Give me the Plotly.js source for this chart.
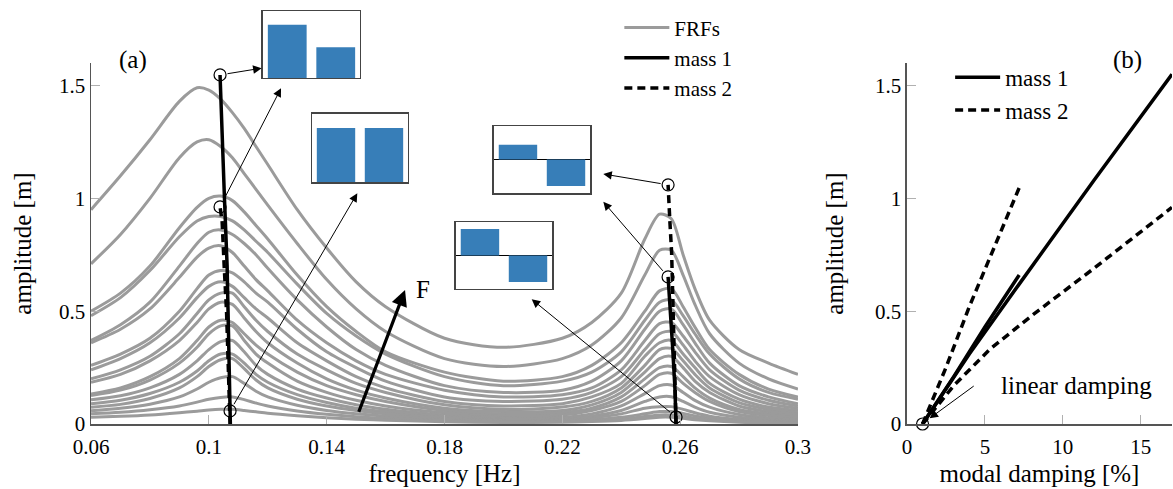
<!DOCTYPE html>
<html><head><meta charset="utf-8">
<script src="https://cdn.plot.ly/plotly-3.0.1.min.js"></script>
<style>html,body{margin:0;padding:0;background:#fff}#chart{width:1173px;height:489px}</style>
</head><body><div id="chart"></div>
<script>
// ---------- data ----------
const freq = [0.06,0.07,0.08,0.09,0.096,0.1,0.104,0.108,0.112,0.116,0.12,0.13,0.14,0.15,0.16,0.18,0.2,0.22,0.23,0.24,0.248,0.253,0.257,0.261,0.265,0.27,0.28,0.29,0.3];
const frf01 = [0.95,1.10,1.26,1.43,1.49,1.48,1.44,1.38,1.31,1.23,1.15,0.95,0.78,0.63,0.52,0.38,0.34,0.38,0.45,0.58,0.82,0.93,0.91,0.75,0.60,0.46,0.33,0.27,0.22];
const frf02 = [0.71,0.84,1.00,1.18,1.25,1.26,1.23,1.18,1.11,1.04,0.97,0.80,0.64,0.51,0.41,0.29,0.255,0.29,0.35,0.47,0.66,0.77,0.77,0.66,0.53,0.40,0.27,0.20,0.155];
const frf03 = [0.50,0.58,0.70,0.87,0.96,1.00,1.01,0.99,0.94,0.88,0.82,0.66,0.52,0.41,0.32,0.23,0.19,0.21,0.26,0.36,0.50,0.59,0.60,0.52,0.43,0.33,0.22,0.155,0.12];
const frf04 = [0.48,0.56,0.68,0.83,0.90,0.92,0.92,0.90,0.86,0.81,0.76,0.62,0.49,0.39,0.31,0.21,0.17,0.19,0.23,0.32,0.46,0.54,0.55,0.48,0.40,0.31,0.20,0.14,0.11];
const frf05 = [0.37,0.44,0.54,0.70,0.80,0.85,0.86,0.84,0.80,0.75,0.69,0.55,0.43,0.33,0.26,0.17,0.14,0.15,0.19,0.28,0.42,0.50,0.51,0.44,0.36,0.27,0.17,0.12,0.09];
const frf06 = [0.36,0.42,0.51,0.65,0.74,0.78,0.79,0.76,0.70,0.64,0.59,0.46,0.36,0.28,0.22,0.15,0.12,0.13,0.16,0.24,0.37,0.445,0.45,0.39,0.32,0.24,0.15,0.105,0.08];
const frf07 = [0.26,0.31,0.38,0.50,0.60,0.66,0.68,0.67,0.63,0.58,0.54,0.42,0.32,0.25,0.19,0.12,0.10,0.11,0.14,0.21,0.33,0.40,0.41,0.35,0.28,0.21,0.13,0.09,0.07];
const frf08 = [0.24,0.29,0.36,0.47,0.56,0.61,0.63,0.61,0.56,0.51,0.47,0.36,0.28,0.21,0.16,0.10,0.08,0.09,0.12,0.18,0.30,0.36,0.37,0.31,0.25,0.18,0.11,0.075,0.06];
const frf09 = [0.20,0.24,0.30,0.40,0.49,0.55,0.58,0.58,0.52,0.46,0.41,0.31,0.24,0.18,0.14,0.085,0.065,0.075,0.10,0.16,0.26,0.33,0.335,0.28,0.22,0.16,0.095,0.065,0.05];
const frf10 = [0.185,0.22,0.28,0.37,0.45,0.51,0.54,0.53,0.47,0.41,0.36,0.27,0.20,0.15,0.115,0.07,0.055,0.06,0.085,0.14,0.23,0.29,0.30,0.25,0.19,0.14,0.08,0.055,0.042];
const frf11 = [0.133,0.16,0.21,0.29,0.37,0.43,0.46,0.45,0.40,0.35,0.31,0.23,0.17,0.13,0.10,0.06,0.045,0.05,0.07,0.12,0.20,0.25,0.255,0.21,0.16,0.115,0.065,0.045,0.035];
const frf12 = [0.126,0.15,0.195,0.27,0.34,0.40,0.435,0.435,0.37,0.31,0.27,0.19,0.14,0.105,0.08,0.05,0.035,0.04,0.06,0.10,0.17,0.22,0.225,0.18,0.14,0.10,0.055,0.038,0.03];
const frf13 = [0.107,0.125,0.16,0.22,0.28,0.33,0.365,0.37,0.32,0.26,0.22,0.155,0.115,0.085,0.065,0.04,0.028,0.03,0.045,0.08,0.135,0.17,0.173,0.14,0.105,0.075,0.042,0.028,0.022];
const frf14 = [0.09,0.105,0.135,0.185,0.235,0.28,0.31,0.31,0.27,0.22,0.185,0.13,0.095,0.07,0.055,0.033,0.022,0.025,0.035,0.06,0.10,0.12,0.121,0.10,0.075,0.052,0.03,0.02,0.016];
const frf15 = [0.074,0.087,0.113,0.16,0.21,0.255,0.285,0.29,0.245,0.195,0.16,0.11,0.08,0.06,0.046,0.028,0.018,0.02,0.028,0.045,0.07,0.077,0.077,0.065,0.05,0.035,0.02,0.014,0.011];
const frf16 = [0.059,0.07,0.088,0.12,0.155,0.185,0.205,0.21,0.18,0.145,0.12,0.083,0.06,0.045,0.035,0.021,0.014,0.015,0.02,0.03,0.045,0.055,0.055,0.047,0.036,0.026,0.015,0.01,0.008];
const frf17 = [0.045,0.052,0.063,0.08,0.097,0.11,0.118,0.12,0.108,0.093,0.08,0.058,0.043,0.032,0.025,0.015,0.01,0.011,0.015,0.022,0.033,0.04,0.04,0.034,0.026,0.019,0.011,0.008,0.006];
const frf18 = [0.03,0.034,0.04,0.05,0.057,0.062,0.065,0.065,0.06,0.054,0.048,0.037,0.028,0.021,0.017,0.01,0.007,0.008,0.011,0.016,0.024,0.03,0.03,0.025,0.019,0.014,0.008,0.006,0.005];
const frfs = [frf01,frf02,frf03,frf04,frf05,frf06,frf07,frf08,frf09,frf10,frf11,frf12,frf13,frf14,frf15,frf16,frf17,frf18];

// backbones (frequency, amplitude)
const bbMass1Mode1F = [0.1073,0.1069,0.1062,0.1053,0.1046,0.1038];
const bbMass1Mode1A = [0,0.3,0.7,1.0,1.3,1.547];
const bbMass2Mode1F = [0.1072,0.1066,0.1060,0.1052,0.1045,0.1038];
const bbMass2Mode1A = [0,0.3,0.5,0.7,0.9,0.962];
const bbMass1Mode2F = [0.2586,0.2582,0.2574,0.2567,0.2559];
const bbMass1Mode2A = [0,0.165,0.35,0.5,0.652];
const bbMass2Mode2F = [0.2586,0.2582,0.2577,0.2571,0.2565,0.2559];
const bbMass2Mode2A = [0,0.24,0.54,0.76,0.9,1.06];
const markF = [0.1072,0.1038,0.1038,0.2586,0.2559,0.2559];
const markA = [0.058,0.962,1.547,0.031,0.652,1.06];

// modal damping (%) vs amplitude
const dampM1aD = [1,4,7.2,12,17];
const dampM1aA = [0,0.31,0.62,1.08,1.55];
const dampM1bD = [1,3,5,7.2];
const dampM1bA = [0,0.21,0.43,0.66];
const dampM2aD = [1,2.5,4,5.5,7.25];
const dampM2aA = [0,0.25,0.52,0.77,1.055];
const dampM2bD = [1,3,5.3,8,12,17];
const dampM2bA = [0,0.17,0.33,0.48,0.69,0.96];
const linearD = [1];
const linearA = [0];

// mode shapes in insets
const shapeIdx = [0,1];
const shapeA = [1,0.58];
const shapeB = [1,1];
const shapeC = [0.56,-1];
const shapeD = [1,-1];

const freqTicks = [0.06,0.1,0.14,0.18,0.22,0.26,0.3];
const freqTickText = ['0.06','0.1','0.14','0.18','0.22','0.26','0.3'];
const ampTicks = [0,0.5,1,1.5];
const ampTickText = ['0','0.5','1','1.5'];
const dampTicks = [0,5,10,15];

// ---------- traces ----------
const FONT = "'Liberation Serif', 'Times New Roman', serif";
const traces = [];
frfs.forEach((a,i)=>{
  traces.push({x:freq,y:a,type:'scatter',mode:'lines',name:'FRFs',legendgroup:'frf',showlegend:i===0,
    line:{color:'#9b9b9b',width:3,shape:'spline',smoothing:0.8},hoverinfo:'skip',xaxis:'x',yaxis:'y',legend:'legend'});
});
traces.push({x:bbMass1Mode1F.concat([null],bbMass1Mode2F),y:bbMass1Mode1A.concat([null],bbMass1Mode2A),
  type:'scatter',mode:'lines',name:'mass 1',line:{color:'#000',width:3.5},hoverinfo:'skip',xaxis:'x',yaxis:'y',legend:'legend'});
traces.push({x:bbMass2Mode1F.concat([null],bbMass2Mode2F),y:bbMass2Mode1A.concat([null],bbMass2Mode2A),
  type:'scatter',mode:'lines',name:'mass 2',line:{color:'#000',width:3.5,dash:'8px,5px'},hoverinfo:'skip',xaxis:'x',yaxis:'y',legend:'legend'});
traces.push({x:markF,y:markA,type:'scatter',mode:'markers',showlegend:false,cliponaxis:false,
  marker:{symbol:'circle-open',size:12,color:'#000',line:{width:1.2}},hoverinfo:'skip',xaxis:'x',yaxis:'y'});

traces.push({x:dampM1aD.concat([null],dampM1bD),y:dampM1aA.concat([null],dampM1bA),type:'scatter',mode:'lines',name:'mass 1',
  line:{color:'#000',width:3.5},hoverinfo:'skip',xaxis:'x2',yaxis:'y2',legend:'legend2'});
traces.push({x:dampM2aD.concat([null],dampM2bD),y:dampM2aA.concat([null],dampM2bA),type:'scatter',mode:'lines',name:'mass 2',
  line:{color:'#000',width:3.5,dash:'8px,5px'},hoverinfo:'skip',xaxis:'x2',yaxis:'y2',legend:'legend2'});
traces.push({x:linearD,y:linearA,type:'scatter',mode:'markers',showlegend:false,cliponaxis:false,
  marker:{symbol:'circle-open',size:12,color:'#000',line:{width:1.2}},hoverinfo:'skip',xaxis:'x2',yaxis:'y2'});

[[shapeA,'x3','y3'],[shapeB,'x4','y4'],[shapeC,'x5','y5'],[shapeD,'x6','y6']].forEach(s=>{
  traces.push({x:shapeIdx,y:s[0],type:'bar',xaxis:s[1],yaxis:s[2],showlegend:false,hoverinfo:'skip',
    marker:{color:'#377eb8',line:{width:0}}});
});

// ---------- layout ----------
const mainAxis = {showline:true,linecolor:'#555',linewidth:1.5,ticks:'inside',ticklen:9,tickcolor:'#b0b0b0',tickwidth:1,
  showgrid:false,zeroline:false,tickfont:{family:FONT,size:21,color:'#000'},fixedrange:true};
function insetX(dom,anchor){return {domain:dom,anchor:anchor,range:[-0.5,1.5],showticklabels:false,ticks:'',showline:true,mirror:true,
  linecolor:'#444',linewidth:1.5,showgrid:false,zeroline:false,fixedrange:true};}
function insetY(dom,anchor,rng,zero){return {domain:dom,anchor:anchor,range:rng,showticklabels:false,ticks:'',showline:true,mirror:true,
  linecolor:'#444',linewidth:1.5,showgrid:false,zeroline:zero,zerolinecolor:'#000',zerolinewidth:1.5,fixedrange:true};}

const arrowBase = {xref:'x',yref:'y',axref:'x',ayref:'y',text:'',showarrow:true,arrowhead:2,arrowsize:1.7,arrowwidth:1,arrowcolor:'#000',startstandoff:6};
const TITLE = {family:FONT,size:25,color:'#000'};

const layout = {
  width:1173,height:489,margin:{l:0,r:0,t:0,b:0,pad:0},paper_bgcolor:'#fff',plot_bgcolor:'rgba(0,0,0,0)',
  font:{family:FONT,size:21,color:'#000'},bargap:0.2,
  xaxis:Object.assign({},mainAxis,{domain:[0.0776,0.6803],anchor:'y',range:[0.06,0.3],tickvals:freqTicks,ticktext:freqTickText,
    ticklabelstandoff:3,title:{text:'frequency [Hz]',font:TITLE,standoff:7}}),
  yaxis:Object.assign({},mainAxis,{domain:[0.1329,0.8712],anchor:'x',range:[0,1.6],tickvals:ampTicks,ticktext:ampTickText,
    title:{text:'amplitude [m]',font:TITLE,standoff:20}}),
  xaxis2:Object.assign({},mainAxis,{domain:[0.7732,0.9991],anchor:'y2',range:[0,17],tickvals:dampTicks,
    ticklabelstandoff:3,title:{text:'modal damping [%]',font:TITLE,standoff:7}}),
  yaxis2:Object.assign({},mainAxis,{domain:[0.1329,0.8712],anchor:'x2',range:[0,1.6],tickvals:ampTicks,ticktext:ampTickText,
    title:{text:'amplitude [m]',font:TITLE,standoff:24}}),
  xaxis3:insetX([0.2242,0.3069],'y3'), yaxis3:insetY([0.8405,0.9775],'x3',[0,1.26],false),
  xaxis4:insetX([0.2660,0.3478],'y4'), yaxis4:insetY([0.6278,0.7669],'x4',[0,1.26],false),
  xaxis5:insetX([0.4211,0.5030],'y5'), yaxis5:insetY([0.6053,0.7423],'x5',[-1.26,1.26],true),
  xaxis6:insetX([0.3887,0.4706],'y6'), yaxis6:insetY([0.4090,0.5460],'x6',[-1.26,1.26],true),
  legend:{x:0.528,y:0.985,xanchor:'left',yanchor:'top',bgcolor:'rgba(0,0,0,0)',font:{family:FONT,size:21},itemwidth:45,tracegroupgap:0},
  legend2:{x:0.81,y:0.886,xanchor:'left',yanchor:'top',bgcolor:'rgba(0,0,0,0)',font:{family:FONT,size:23},itemwidth:45,tracegroupgap:0},
  annotations:[
    Object.assign({},arrowBase,{x:0.1179,y:1.577,ax:0.1038,ay:1.547}),
    Object.assign({},arrowBase,{x:0.1245,y:1.488,ax:0.1038,ay:0.962}),
    Object.assign({},arrowBase,{x:0.1504,y:1.023,ax:0.1072,ay:0.058}),
    Object.assign({},arrowBase,{x:0.2339,y:1.108,ax:0.2559,ay:1.06}),
    Object.assign({},arrowBase,{x:0.2339,y:0.985,ax:0.2559,ay:0.652}),
    Object.assign({},arrowBase,{x:0.2096,y:0.553,ax:0.2586,ay:0.031}),
    Object.assign({},arrowBase,{x:0.1666,y:0.594,ax:0.1507,ay:0.047,arrowwidth:3.2,arrowsize:1,startstandoff:0}),
    {xref:'x',yref:'y',x:0.1728,y:0.594,text:'F',showarrow:false,font:{family:FONT,size:25},xanchor:'center',yanchor:'middle'},
    Object.assign({},arrowBase,{xref:'x2',yref:'y2',axref:'x2',ayref:'y2',x:1.45,y:0.025,ax:4.38,ay:0.173,startstandoff:0}),
    {xref:'x2',yref:'y2',x:10.9,y:0.17,text:'linear damping',showarrow:false,font:{family:FONT,size:25},xanchor:'center',yanchor:'middle'},
    {xref:'paper',yref:'paper',x:0.1134,y:0.877,text:'(a)',showarrow:false,font:{family:FONT,size:25},xanchor:'center',yanchor:'middle'},
    {xref:'paper',yref:'paper',x:0.9608,y:0.877,text:'(b)',showarrow:false,font:{family:FONT,size:25},xanchor:'center',yanchor:'middle'}
  ]
};

Plotly.newPlot('chart',traces,layout,{staticPlot:true,displayModeBar:false});
</script></body></html>
